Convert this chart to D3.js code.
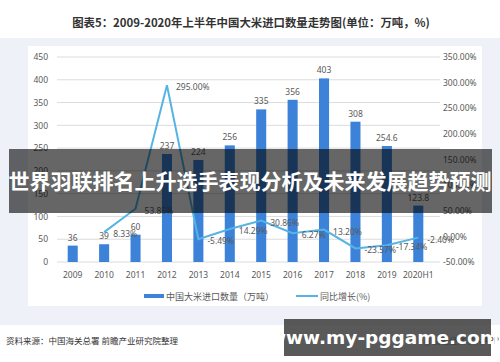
<!DOCTYPE html>
<html>
<head>
<meta charset="utf-8">
<script src="https://cdn.jsdelivr.net/npm/d3@7"></script>
<style>
  body { margin: 0; background: #fff; }
  svg { display: block; font-family: "Noto Sans CJK SC", "Noto Sans", sans-serif; }
</style>
</head>
<body>
<script>
var years = ['2009', '2010', '2011', '2012', '2013', '2014', '2015', '2016', '2017', '2018', '2019', '2020H1'];
var imports = [36, 39, 60, 237, 224, 256, 335, 356, 403, 308, 254.6, 123.8];
var growthYears = ['2010', '2011', '2012', '2013', '2014', '2015', '2016', '2017', '2018', '2019', '2020H1'];
var growth = [8.33, 53.85, 295.00, -5.49, 14.29, 30.86, 6.27, 13.20, -23.57, -17.34, -2.40];
var leftTicks = [0, 50, 100, 150, 200, 250, 300, 350, 400, 450];
var rightTicks = [-50, 0, 50, 100, 150, 200, 250, 300, 350];

var width = 500, height = 362;
var svg = d3.select('body').append('svg')
	.attr('width', width)
	.attr('height', height);

// background panels
svg.append('rect').attr('x', 0).attr('y', 38).attr('width', width).attr('height', 287).attr('fill', '#eef1f8');
svg.append('rect').attr('x', 28).attr('y', 46).attr('width', 454).attr('height', 260).attr('fill', '#fff');

svg.append('text')
	.attr('x', 251).attr('y', 27)
	.attr('text-anchor', 'middle')
	.attr('font-size', 11.4).attr('font-weight', 'bold').attr('fill', '#333')
	.text('图表5：2009-2020年上半年中国大米进口数量走势图(单位：万吨，%)');

var x = d3.scaleBand().domain(years).range([57, 434]).paddingInner(0.68).paddingOuter(0.34);
var yL = d3.scaleLinear().domain([0, 450]).range([262, 57]);
var yR = d3.scaleLinear().domain([-50, 350]).range([262, 57]);

// gridlines
svg.append('g').selectAll('line')
	.data(leftTicks)
	.enter().append('line')
		.attr('x1', 57).attr('x2', 440)
		.attr('y1', function(d){ return yL(d) })
		.attr('y2', function(d){ return yL(d) })
		.attr('stroke', '#dcdcdc').attr('stroke-width', 1);

var axL = svg.append('g').attr('transform', 'translate(50,0)')
	.call(d3.axisLeft(yL).tickValues(leftTicks).tickSize(0).tickPadding(2));
var axR = svg.append('g').attr('transform', 'translate(441,0)')
	.call(d3.axisRight(yR).tickValues(rightTicks).tickSize(0).tickPadding(2)
		.tickFormat(function(d){ return d.toFixed(2) + '%' }));
var axX = svg.append('g').attr('transform', 'translate(0,270)')
	.call(d3.axisBottom(x).tickSize(0).tickPadding(2));
[axL, axR, axX].forEach(function(g){
	g.select('.domain').remove();
	g.selectAll('text').attr('font-size', 8.5).attr('fill', '#595959')
		.style('font-family', '"Noto Sans", sans-serif');
});

// bars
svg.append('g').selectAll('rect')
	.data(imports)
	.enter().append('rect')
		.attr('x', function(d, i){ return x(years[i]) })
		.attr('y', function(d){ return yL(d) })
		.attr('width', x.bandwidth())
		.attr('height', function(d){ return yL(0) - yL(d) })
		.attr('fill', '#3c82d8');

svg.append('g').selectAll('text')
	.data(imports)
	.enter().append('text')
		.attr('x', function(d, i){ return x(years[i]) + x.bandwidth() / 2 })
		.attr('y', function(d){ return yL(d) - 5 })
		.attr('text-anchor', 'middle')
		.attr('font-size', 8.5).attr('fill', '#595959')
		.style('font-family', '"Noto Sans", sans-serif')
		.text(function(d){ return d });

// growth line
var line = d3.line()
	.x(function(d, i){ return x(growthYears[i]) + x.bandwidth() / 2 })
	.y(function(d){ return yR(d) });
svg.append('path')
	.datum(growth)
	.attr('d', line)
	.attr('fill', 'none')
	.attr('stroke', '#55b4e6')
	.attr('stroke-width', 2);

svg.append('g').selectAll('text')
	.data(growth)
	.enter().append('text')
		.attr('x', function(d, i){ return x(growthYears[i]) + x.bandwidth() / 2 + 9 })
		.attr('y', function(d){ return yR(d) + 5 })
		.attr('font-size', 8.5).attr('fill', '#595959')
		.style('font-family', '"Noto Sans", sans-serif')
		.text(function(d){ return d.toFixed(2) + '%' });

// legend
var lg = svg.append('g').attr('font-size', 9).attr('fill', '#595959');
lg.append('rect').attr('x', 144).attr('y', 294).attr('width', 20).attr('height', 4).attr('fill', '#3c82d8');
lg.append('text').attr('x', 166).attr('y', 299.5).text('中国大米进口数量（万吨）');
lg.append('line').attr('x1', 296).attr('x2', 318).attr('y1', 296).attr('y2', 296)
	.attr('stroke', '#55b4e6').attr('stroke-width', 2);
lg.append('text').attr('x', 320).attr('y', 299.5).text('同比增长(%)');

// source
svg.append('text').attr('x', 6).attr('y', 344)
	.attr('font-size', 8.5).attr('fill', '#333')
	.text('资料来源：中国海关总署 前瞻产业研究院整理');
svg.append('text').attr('x', 499).attr('y', 344).attr('text-anchor', 'end')
	.attr('font-size', 8.5).attr('fill', '#333')
	.text('@前瞻经济学人APP');

// overlay banners
svg.append('rect').attr('x', 9).attr('y', 149).attr('width', 483).attr('height', 64)
	.attr('fill', 'rgba(0,0,0,0.6)');
svg.append('text').attr('x', 250).attr('y', 189).attr('text-anchor', 'middle')
	.attr('font-size', 21).attr('font-weight', 'bold').attr('fill', '#fff')
	.text('世界羽联排名上升选手表现分析及未来发展趋势预测');

svg.append('rect').attr('x', 284).attr('y', 319).attr('width', 207).attr('height', 37)
	.attr('fill', 'rgba(60,60,60,0.85)');
svg.append('text').attr('x', 384).attr('y', 344).attr('text-anchor', 'middle')
	.attr('font-size', 18.5).attr('font-weight', 'bold').attr('fill', '#fff')
	.style('font-family', '"DejaVu Sans", sans-serif')
	.text('www.my-pggame.com');
</script>
</body>
</html>
